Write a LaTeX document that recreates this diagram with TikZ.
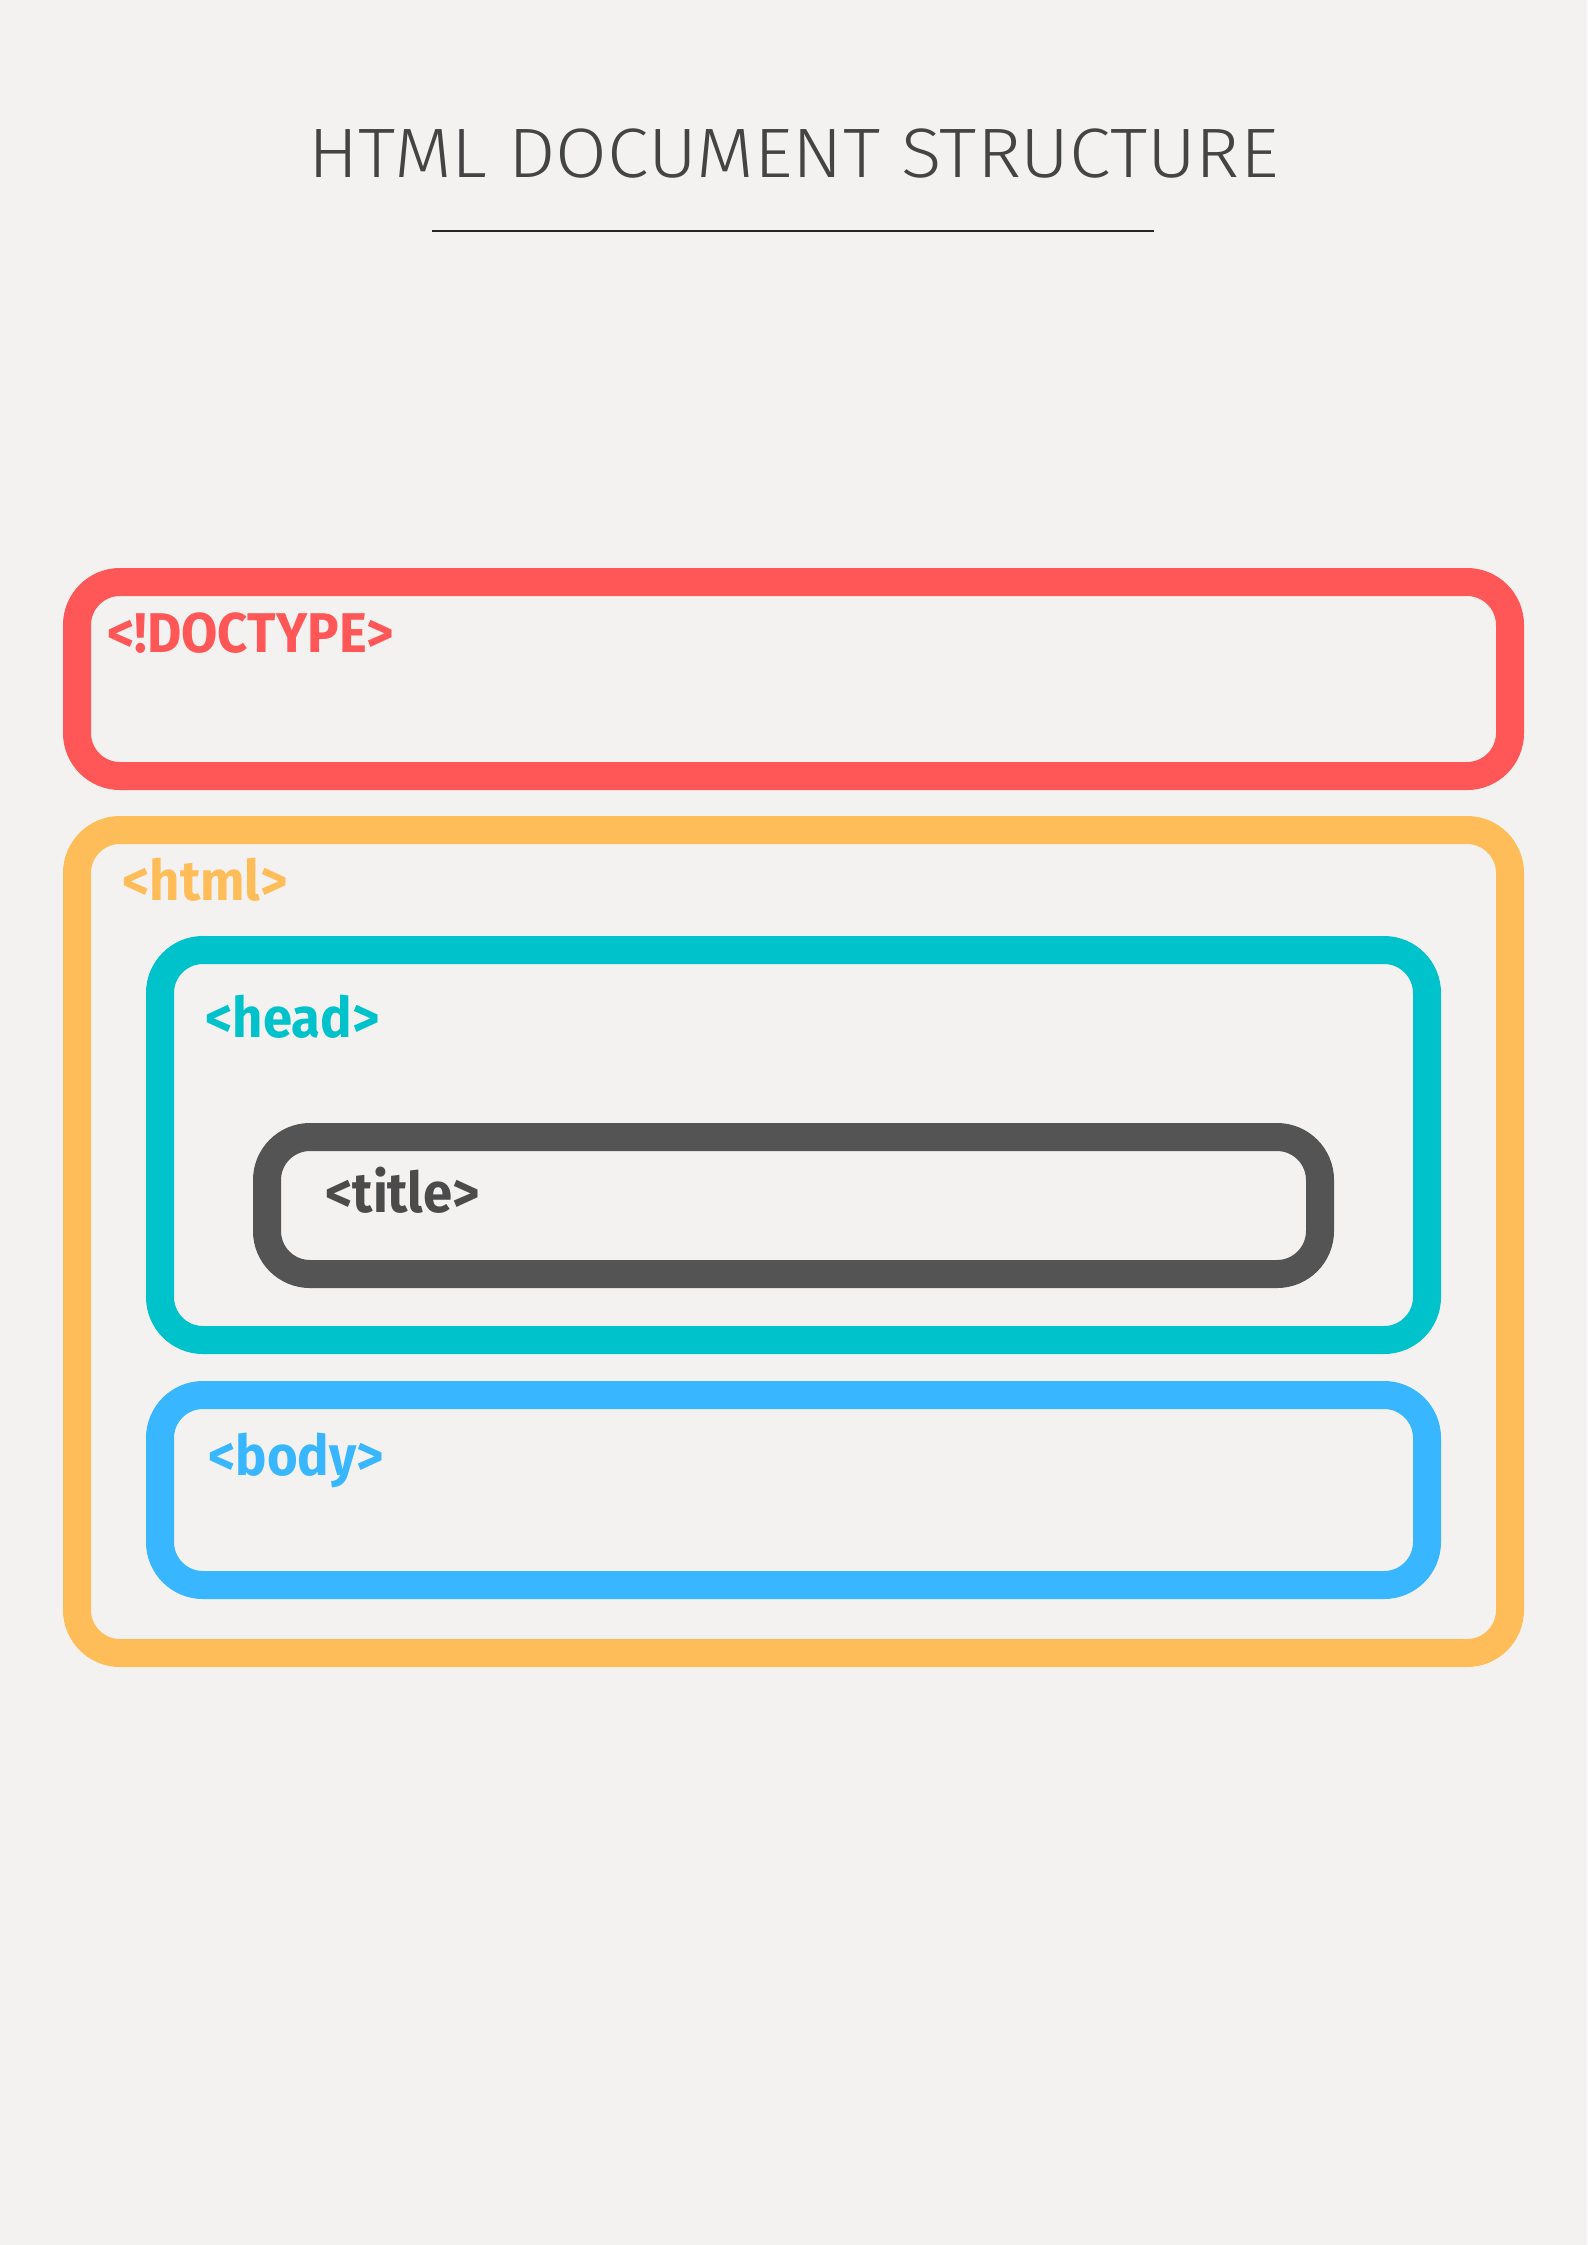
\documentclass[tikz,border=0pt]{standalone}
\usepackage{fontspec}
\setmainfont{Fira Sans}
\newfontfamily\titlefont{Fira Sans Light}[FakeStretch=1.07]
\newfontfamily\tagfont{Fira Sans Bold}[FakeStretch=0.94]
\definecolor{bg}{HTML}{F4F2F0}
\definecolor{cred}{HTML}{FF5757}
\definecolor{corange}{HTML}{FFBD59}
\definecolor{cteal}{HTML}{00C2CB}
\definecolor{cgray}{HTML}{545454}
\definecolor{cblue}{HTML}{38B6FF}
\definecolor{ctitle}{HTML}{444444}
\begin{document}
\begin{tikzpicture}[x=0.5pt,y=-0.5pt,
  tagbox/.style={draw=#1, line width=14pt, rounded corners=21.5pt, rectangle, inner sep=0pt},
  taglabel/.style={anchor=base west, inner sep=0pt, text=#1, font=\tagfont\fontsize{28}{30}\selectfont},
  heading/.style={anchor=base, inner sep=0pt, text=ctitle, font=\titlefont\fontsize{35}{40}\selectfont}]
\fill[bg] (0,0) rectangle (1587,2245);
\useasboundingbox (0,0) rectangle (1587,2245);
% title
\node[heading] (title) at (793.5,177) {HTML DOCUMENT STRUCTURE};
\coordinate (ruleL) at (432,231);
\coordinate (ruleR) at (1154,231);
\draw[line width=0.8pt, color=black!85] (ruleL) -- (ruleR);
% boxes
\draw[tagbox=cred] (77,582) rectangle (1510,776);
\draw[tagbox=corange] (77,830) rectangle (1510,1653);
\draw[tagbox=cteal] (160,950) rectangle (1427,1340);
\draw[tagbox=cgray] (267,1137) rectangle (1320,1274);
\draw[tagbox=cblue] (160,1395) rectangle (1427,1585);
% labels
\node[taglabel=cred] (doctype) at (107,652) {<!DOCTYPE>};
\node[taglabel=corange] (html) at (122,900) {<html>};
\node[taglabel=cteal] (head) at (205,1037) {<head>};
\node[taglabel=cgray!90!black] (titletag) at (325,1212) {<title>};
\node[taglabel=cblue] (body) at (208,1475) {<body>};
\end{tikzpicture}
\end{document}
